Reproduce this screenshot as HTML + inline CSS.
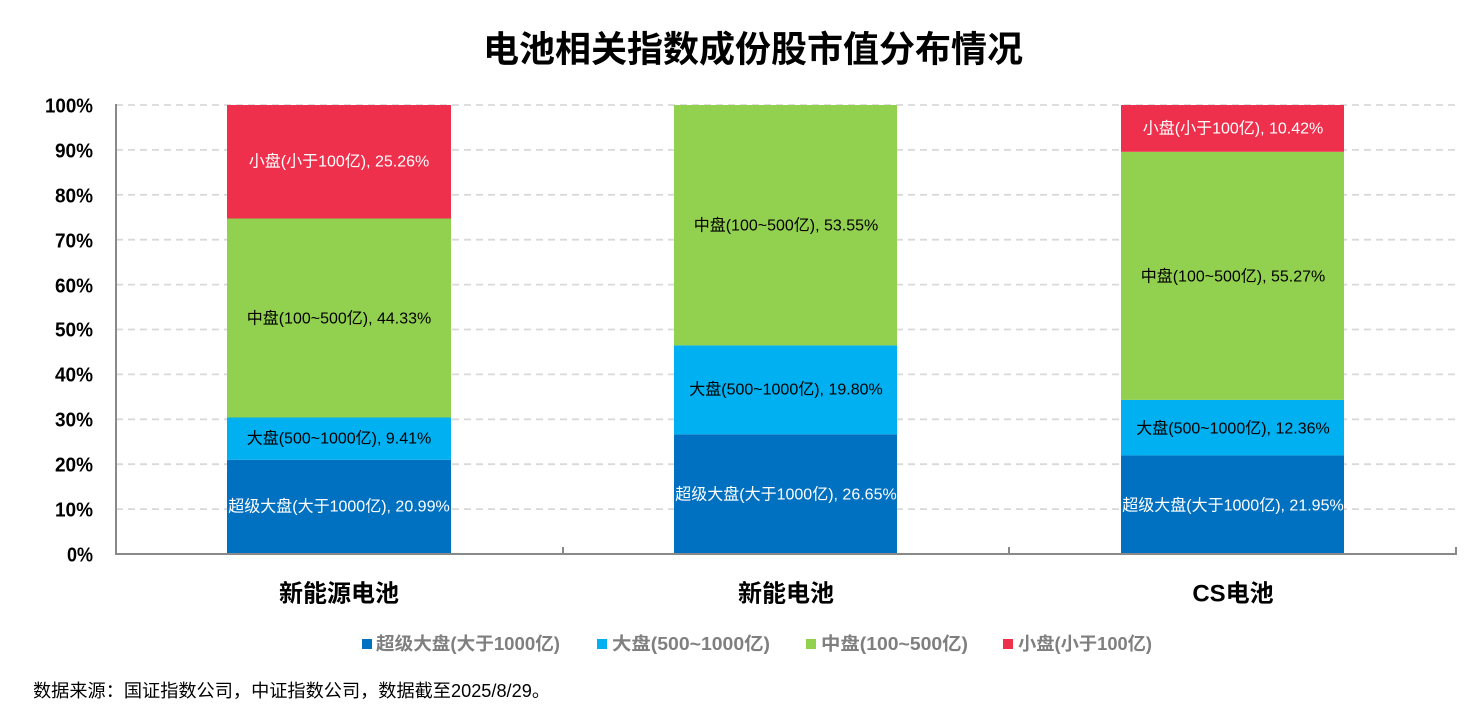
<!DOCTYPE html>
<html><head><meta charset="utf-8"><style>
html,body{margin:0;padding:0;background:#fff;}
svg{display:block;}
text{font-family:"Liberation Sans","Noto Sans CJK SC",sans-serif;}
</style></head><body>
<svg width="1476" height="727" viewBox="0 0 1476 727" xmlns="http://www.w3.org/2000/svg">
<rect width="1476" height="727" fill="#fff"/>
<text x="753" y="49" font-size="36" font-weight="bold" text-anchor="middle" dominant-baseline="central" fill="#000">电池相关指数成份股市值分布情况</text>

<!-- gridlines -->
<g stroke="#D9D9D9" stroke-width="1.8" stroke-dasharray="7,5">
<line x1="116" x2="1456" y1="105" y2="105"/>
<line x1="116" x2="1456" y1="149.9" y2="149.9"/>
<line x1="116" x2="1456" y1="194.8" y2="194.8"/>
<line x1="116" x2="1456" y1="239.7" y2="239.7"/>
<line x1="116" x2="1456" y1="284.6" y2="284.6"/>
<line x1="116" x2="1456" y1="329.5" y2="329.5"/>
<line x1="116" x2="1456" y1="374.4" y2="374.4"/>
<line x1="116" x2="1456" y1="419.3" y2="419.3"/>
<line x1="116" x2="1456" y1="464.2" y2="464.2"/>
<line x1="116" x2="1456" y1="509.1" y2="509.1"/>
</g>

<!-- bar 1 -->
<rect x="227" y="459.75" width="224" height="94.25" fill="#0070C0"/>
<rect x="227" y="417.5" width="224" height="42.25" fill="#00B0F0"/>
<rect x="227" y="218.5" width="224" height="199" fill="#92D050"/>
<rect x="227" y="105" width="224" height="113.5" fill="#EE304D"/>
<!-- bar 2 -->
<rect x="674" y="434.3" width="223" height="119.7" fill="#0070C0"/>
<rect x="674" y="345.4" width="223" height="88.9" fill="#00B0F0"/>
<rect x="674" y="105" width="223" height="240.4" fill="#92D050"/>
<!-- bar 3 -->
<rect x="1121" y="455.4" width="223" height="98.6" fill="#0070C0"/>
<rect x="1121" y="399.9" width="223" height="55.5" fill="#00B0F0"/>
<rect x="1121" y="151.8" width="223" height="248.1" fill="#92D050"/>
<rect x="1121" y="105" width="223" height="46.8" fill="#EE304D"/>

<!-- bar labels -->
<g font-size="16" text-anchor="middle" dominant-baseline="central">
<text x="339" y="507" fill="#fff">超级大盘(大于1000亿), 20.99%</text>
<text x="339" y="439" fill="#000">大盘(500~1000亿), 9.41%</text>
<text x="339" y="319" fill="#000">中盘(100~500亿), 44.33%</text>
<text x="339" y="162" fill="#fff">小盘(小于100亿), 25.26%</text>

<text x="786" y="495" fill="#fff">超级大盘(大于1000亿), 26.65%</text>
<text x="786" y="390" fill="#000">大盘(500~1000亿), 19.80%</text>
<text x="786" y="226" fill="#000">中盘(100~500亿), 53.55%</text>

<text x="1233" y="506" fill="#fff">超级大盘(大于1000亿), 21.95%</text>
<text x="1233" y="429" fill="#000">大盘(500~1000亿), 12.36%</text>
<text x="1233" y="277" fill="#000">中盘(100~500亿), 55.27%</text>
<text x="1233" y="129" fill="#fff">小盘(小于100亿), 10.42%</text>
</g>

<!-- axes -->
<g stroke="#898989" stroke-width="2" fill="none">
<line x1="116" y1="104" x2="116" y2="555"/>
<line x1="115" y1="554" x2="1457" y2="554"/>
<line x1="563" y1="547" x2="563" y2="554"/>
<line x1="1009" y1="547" x2="1009" y2="554"/>
<line x1="1456" y1="547" x2="1456" y2="554"/>
</g>

<!-- y labels -->
<g font-size="20.5" font-weight="bold" text-anchor="end" dominant-baseline="central" fill="#000">
<text x="93" y="106" textLength="48" lengthAdjust="spacingAndGlyphs">100%</text>
<text x="93" y="151" textLength="38" lengthAdjust="spacingAndGlyphs">90%</text>
<text x="93" y="196" textLength="38" lengthAdjust="spacingAndGlyphs">80%</text>
<text x="93" y="241" textLength="38" lengthAdjust="spacingAndGlyphs">70%</text>
<text x="93" y="286" textLength="38" lengthAdjust="spacingAndGlyphs">60%</text>
<text x="93" y="330" textLength="38" lengthAdjust="spacingAndGlyphs">50%</text>
<text x="93" y="375" textLength="38" lengthAdjust="spacingAndGlyphs">40%</text>
<text x="93" y="420" textLength="38" lengthAdjust="spacingAndGlyphs">30%</text>
<text x="93" y="465" textLength="38" lengthAdjust="spacingAndGlyphs">20%</text>
<text x="93" y="510" textLength="38" lengthAdjust="spacingAndGlyphs">10%</text>
<text x="93" y="555" textLength="26" lengthAdjust="spacingAndGlyphs">0%</text>
</g>

<!-- category labels -->
<g font-size="24" font-weight="bold" text-anchor="middle" dominant-baseline="central" fill="#000">
<text x="339" y="594">新能源电池</text>
<text x="786" y="594">新能电池</text>
<text x="1233" y="594">CS电池</text>
</g>

<!-- legend -->
<rect x="362" y="639" width="10" height="10" fill="#0070C0"/>
<rect x="597" y="639" width="10" height="10" fill="#00B0F0"/>
<rect x="806" y="639" width="10" height="10" fill="#92D050"/>
<rect x="1003" y="639" width="10" height="10" fill="#EE304D"/>
<g font-size="18" font-weight="bold" dominant-baseline="central" fill="#7F7F7F">
<text x="376" y="644" textLength="184" lengthAdjust="spacingAndGlyphs">超级大盘(大于1000亿)</text>
<text x="612" y="644" textLength="158" lengthAdjust="spacingAndGlyphs">大盘(500~1000亿)</text>
<text x="821" y="644" textLength="147" lengthAdjust="spacingAndGlyphs">中盘(100~500亿)</text>
<text x="1018" y="644" textLength="134" lengthAdjust="spacingAndGlyphs">小盘(小于100亿)</text>
</g>

<text x="33" y="691" font-size="18" dominant-baseline="central" fill="#000" textLength="517" lengthAdjust="spacingAndGlyphs">数据来源：国证指数公司，中证指数公司，数据截至2025/8/29。</text>
</svg>
</body></html>
